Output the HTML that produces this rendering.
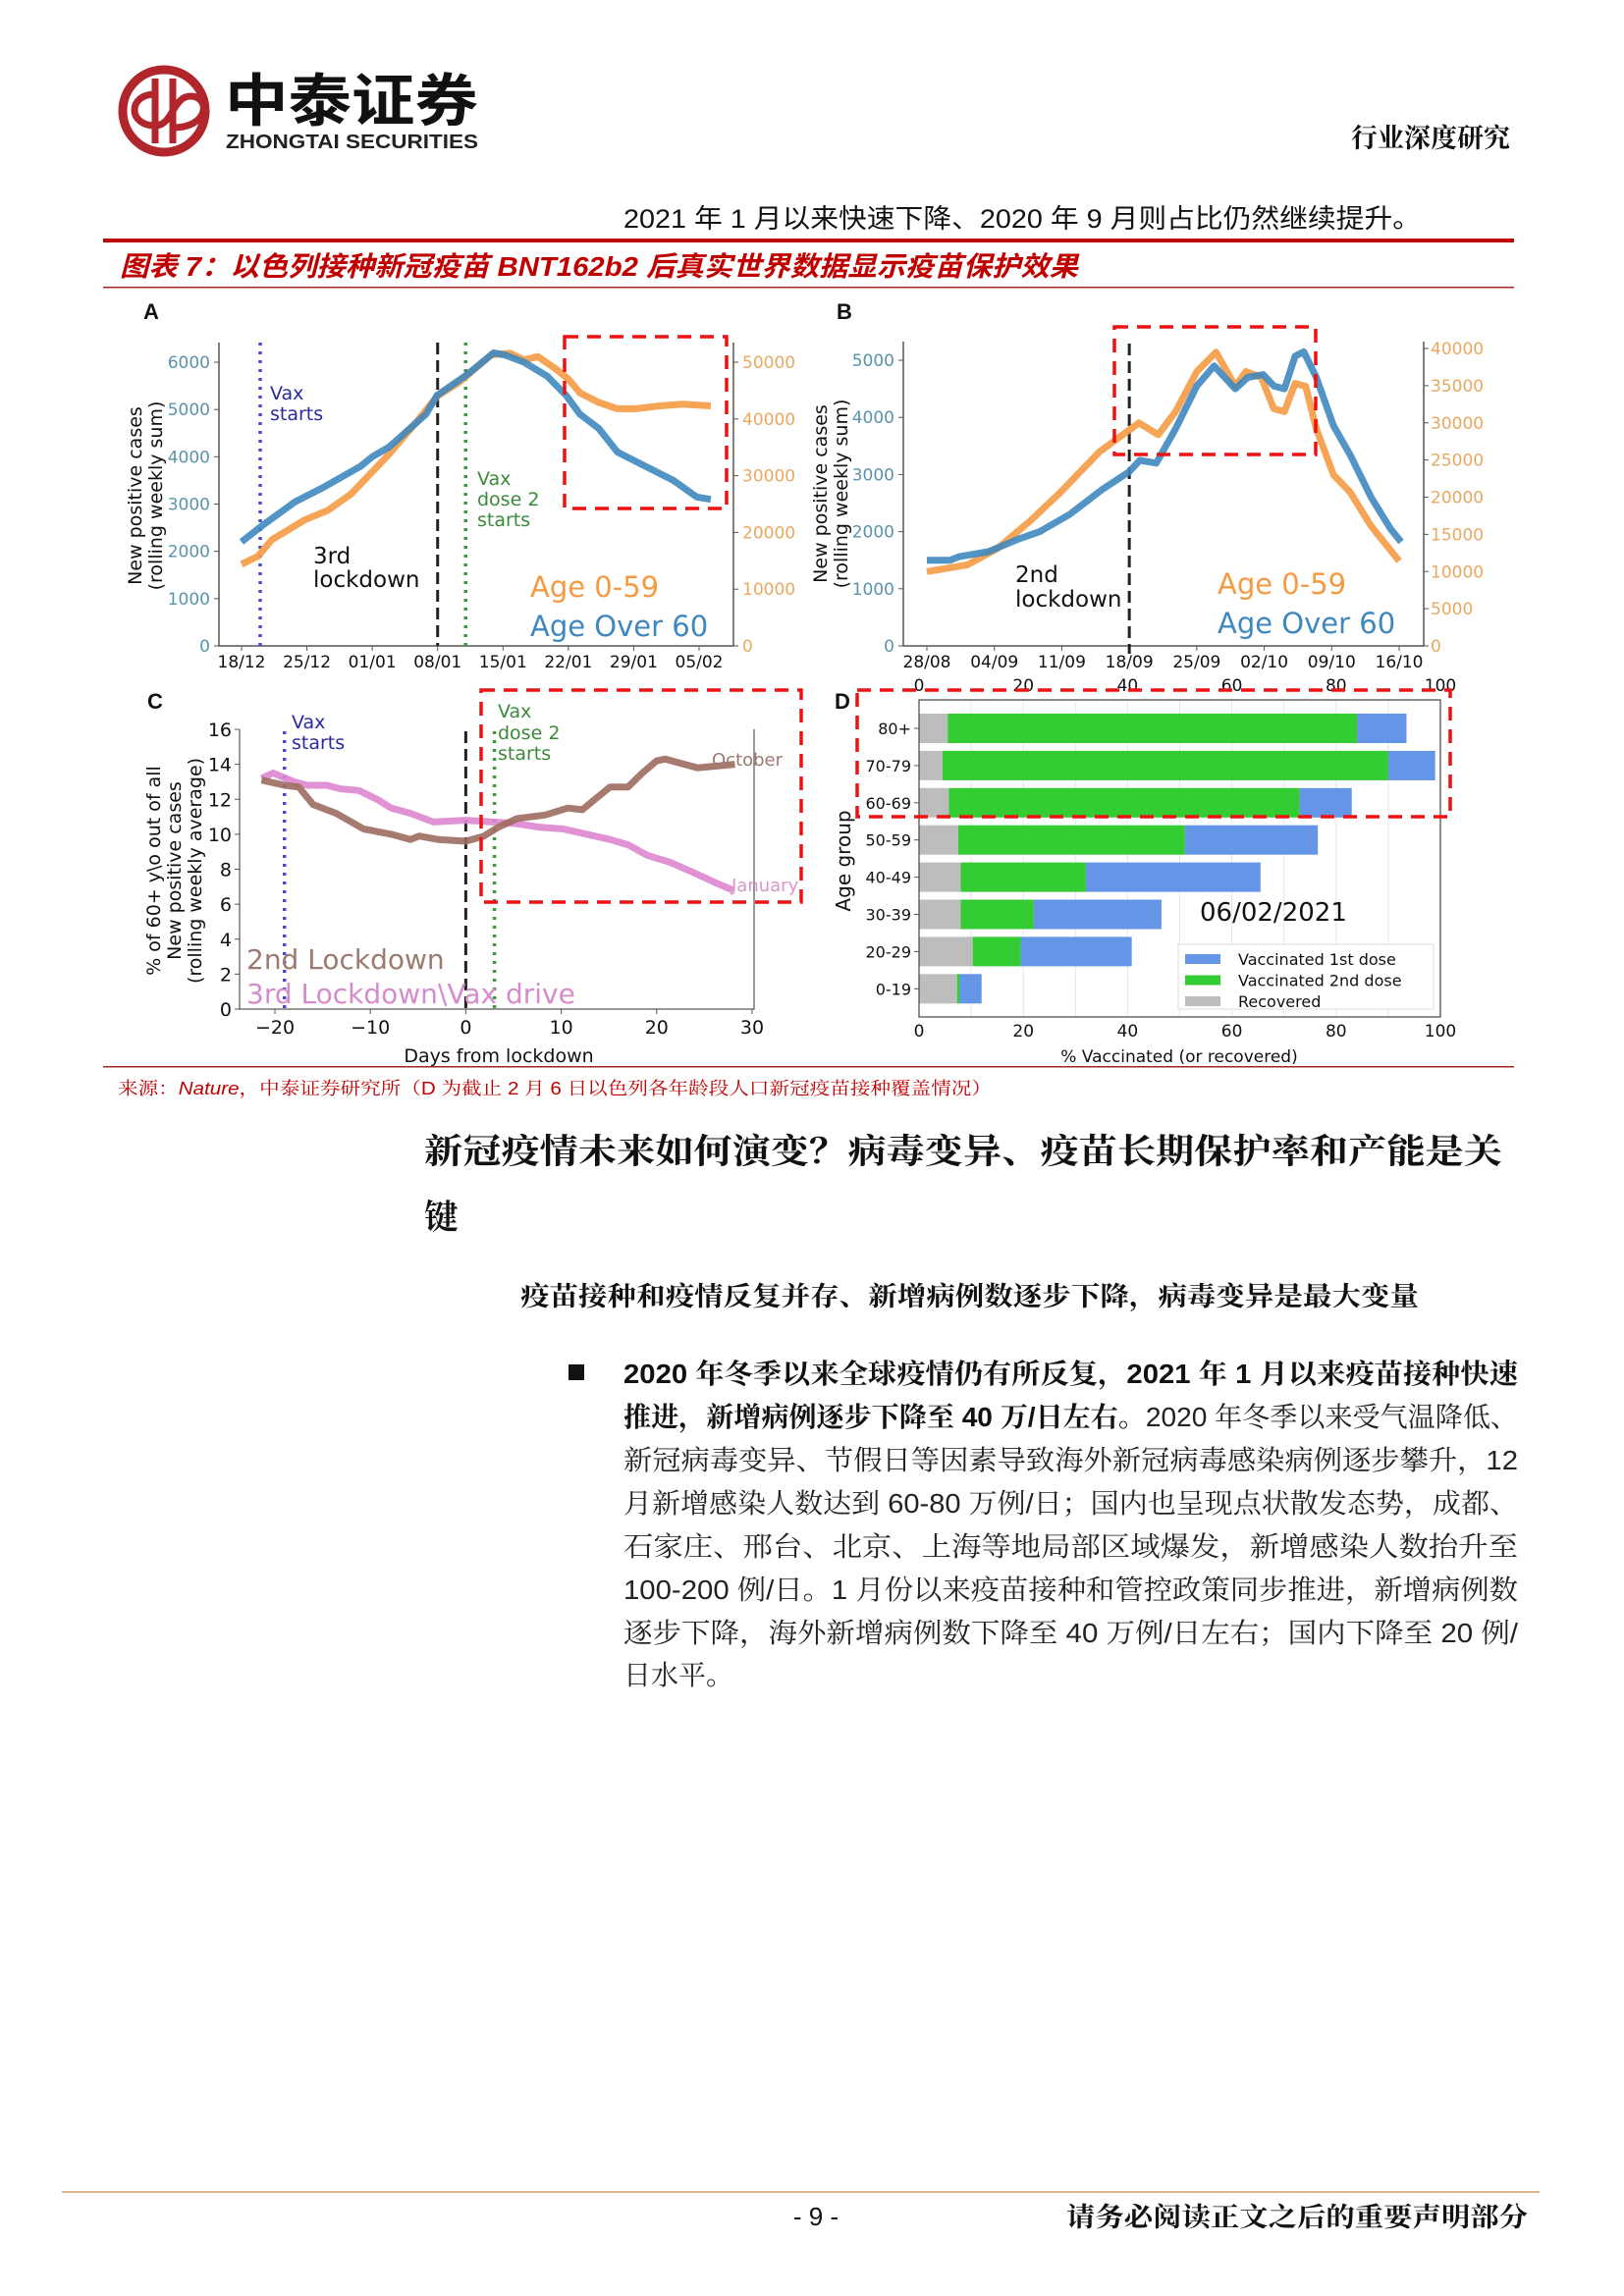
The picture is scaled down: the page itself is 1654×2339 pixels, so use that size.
<!DOCTYPE html>
<html><head><meta charset="utf-8">
<style>
html,body{margin:0;padding:0;background:#fff;}
body{width:1654px;height:2339px;position:relative;overflow:hidden;}
svg{position:absolute;left:0;top:0;}
</style></head>
<body>
<svg id="page" width="1654" height="2339" viewBox="0 0 1654 2339" xmlns="http://www.w3.org/2000/svg" font-family="'Liberation Sans','Noto Sans CJK SC',sans-serif">
<g>
  <g>
    <circle cx="167" cy="113" r="42" fill="none" stroke="#b0262b" stroke-width="9"/>
    <path d="M158 80 L158 146 M176 80 L176 146" stroke="#b0262b" stroke-width="7" fill="none"/>
    <path d="M158 96 C130 96 130 128 158 128 C176 128 176 98 194 98 C214 98 214 130 176 130" stroke="#b0262b" stroke-width="7" fill="none"/>
  </g>
  <text x="229" y="123" font-size="58" font-weight="bold" textLength="258" lengthAdjust="spacingAndGlyphs" font-family="'Noto Sans CJK SC',sans-serif" fill="#111">中泰证券</text>
  <text x="230" y="151" font-size="20" font-weight="bold" textLength="257" lengthAdjust="spacingAndGlyphs" fill="#222">ZHONGTAI SECURITIES</text>
  <text x="1538" y="150" font-size="27" font-weight="bold" text-anchor="end" font-family="'Noto Serif CJK SC',serif" fill="#111">行业深度研究</text>
</g>
<text x="635" y="232" font-size="27" textLength="812" lengthAdjust="spacingAndGlyphs" font-family="'Liberation Sans','Noto Sans CJK SC',sans-serif" fill="#111">2021 年 1 月以来快速下降、2020 年 9 月则占比仍然继续提升。</text>
<rect x="105" y="243" width="1437" height="4" fill="#c00000"/>
<text x="122" y="281" font-size="28" font-weight="bold" font-style="italic" fill="#c00000" textLength="976" lengthAdjust="spacingAndGlyphs" font-family="'Liberation Sans','Noto Sans CJK SC',sans-serif">图表 7：以色列接种新冠疫苗 BNT162b2 后真实世界数据显示疫苗保护效果</text>
<rect x="105" y="292" width="1437" height="1.5" fill="#9a2a2a"/>
<g id="charts"></g>
<rect x="105" y="1086" width="1437" height="1.5" fill="#9a2a2a"/>
<text x="120" y="1115" font-size="18" fill="#c00000" textLength="890" lengthAdjust="spacingAndGlyphs" font-family="'Liberation Sans','Noto Serif CJK SC',serif">来源：<tspan font-style="italic">Nature</tspan>，中泰证券研究所（D 为截止 2 月 6 日以色列各年龄段人口新冠疫苗接种覆盖情况）</text>
<g font-family="'Noto Serif CJK SC',serif" font-weight="bold" font-size="35" fill="#111">
  <text x="432" y="1185" textLength="1098" lengthAdjust="spacingAndGlyphs">新冠疫情未来如何演变？病毒变异、疫苗长期保护率和产能是关</text>
  <text x="432" y="1252">键</text>
</g>
<text x="530" y="1330" font-size="27" font-weight="bold" font-family="'Noto Serif CJK SC',serif" fill="#111" textLength="915" lengthAdjust="spacingAndGlyphs">疫苗接种和疫情反复并存、新增病例数逐步下降，病毒变异是最大变量</text>
<rect x="579" y="1390" width="16" height="16" fill="#111"/>
<g font-size="28" fill="#222" font-family="'Liberation Sans','Noto Serif CJK SC',serif">
  <text x="635" y="1409" font-weight="bold" textLength="911" lengthAdjust="spacingAndGlyphs" fill="#111">2020 年冬季以来全球疫情仍有所反复，2021 年 1 月以来疫苗接种快速</text>
  <text x="635" y="1453" textLength="911" lengthAdjust="spacingAndGlyphs"><tspan font-weight="bold" fill="#111">推进，新增病例逐步下降至 40 万/日左右。</tspan>2020 年冬季以来受气温降低、</text>
  <text x="635" y="1497" textLength="911" lengthAdjust="spacingAndGlyphs">新冠病毒变异、节假日等因素导致海外新冠病毒感染病例逐步攀升，12</text>
  <text x="635" y="1541" textLength="911" lengthAdjust="spacingAndGlyphs">月新增感染人数达到 60-80 万例/日；国内也呈现点状散发态势，成都、</text>
  <text x="635" y="1585" textLength="911" lengthAdjust="spacingAndGlyphs">石家庄、邢台、北京、上海等地局部区域爆发，新增感染人数抬升至</text>
  <text x="635" y="1629" textLength="911" lengthAdjust="spacingAndGlyphs">100-200 例/日。1 月份以来疫苗接种和管控政策同步推进，新增病例数</text>
  <text x="635" y="1673" textLength="911" lengthAdjust="spacingAndGlyphs">逐步下降，海外新增病例数下降至 40 万例/日左右；国内下降至 20 例/</text>
  <text x="635" y="1716">日水平。</text>
</g>
<rect x="63" y="2232" width="1505" height="2" fill="#e0b48c"/>
<text x="831" y="2267" font-size="26" text-anchor="middle" fill="#111">- 9 -</text>
<text x="1556" y="2268" font-size="27" font-weight="bold" text-anchor="end" font-family="'Noto Serif CJK SC',serif" fill="#111" textLength="470" lengthAdjust="spacingAndGlyphs">请务必阅读正文之后的重要声明部分</text>
</svg>
<script>
// ---- Panel A data ----
const aBlueDays = [0,2.25,5.75,8.75,12.75,14,15.75,19.75,20.95,24.25,27,28.25,30.25,32.75,34.75,36.25,38.25,40.25,42.75,46.25,48.75,50.25];
const aBlueVals = [2200,2550,3050,3350,3800,4000,4200,4900,5300,5750,6200,6150,6000,5700,5300,4900,4600,4100,3850,3500,3150,3100];
const aOrangeDays = [0,1.75,3.25,6.75,9.25,11.75,15.75,18.75,20.95,23.25,26.75,28.75,30.25,31.75,33.75,35,36.25,38.25,40.25,42.25,44.75,47.25,50.25];
const aOrangeVals = [14400,15800,18700,22200,23900,26800,33700,39500,44000,46400,51300,51600,50400,51000,48700,47000,44600,42900,41800,41800,42300,42600,42300];
const aXTicks = ['18/12','25/12','01/01','08/01','15/01','22/01','29/01','05/02'];
const aLeftTicks = [0,1000,2000,3000,4000,5000,6000];
const aRightTicks = [0,10000,20000,30000,40000,50000];
// ---- Panel B data ----
const bBlueDays = [0,2.4,3.3,6.4,9.5,11.7,14.8,18.3,21,22.1,23.8,25.8,28,29.8,32,33.3,34.9,36,37.1,38.2,39.1,40.4,42.2,43.9,46.1,48.1,49.2];
const bBlueVals = [1500,1500,1560,1650,1870,2000,2300,2750,3050,3250,3200,3800,4550,4900,4500,4700,4750,4550,4500,5070,5150,4700,3850,3350,2600,2050,1820];
const bOrangeDays = [0,4.2,7.3,10.8,13.9,17.9,22,24,25.8,28,30,32,33.1,34.7,36,37.1,38.2,39.3,40.4,42.2,43.9,46.1,49];
const bOrangeVals = [10000,10900,13100,16900,20700,26100,30000,28400,31500,36900,39500,34900,36900,36100,31900,31500,35300,34900,29200,23000,20700,16100,11400];
const bXTicks = ['28/08','04/09','11/09','18/09','25/09','02/10','09/10','16/10'];
const bLeftTicks = [0,1000,2000,3000,4000,5000];
const bRightTicks = [0,5000,10000,15000,20000,25000,30000,35000,40000];
// ---- Panel C data ----
const cOctDays = [-21.4,-19,-17.5,-16,-13.6,-10.7,-7.8,-5.8,-4.9,-2.9,0,1.9,3.4,5.4,8.3,10.7,12.2,15.1,17,18.5,20,20.9,22.9,24.3,26.3,28.2];
const cOctVals = [13.1,12.8,12.7,11.7,11.2,10.3,10.0,9.7,9.9,9.7,9.6,9.9,10.4,10.9,11.1,11.5,11.4,12.7,12.7,13.5,14.2,14.3,14.0,13.8,13.9,14.0];
const cJanDays = [-21.4,-20.2,-18,-16.6,-14.6,-13.1,-11.2,-9.3,-7.8,-5.8,-3.4,0,2.9,5.4,7.8,10.2,12.7,15.1,17,19,21.4,23.9,26.3,28];
const cJanVals = [13.2,13.5,13.0,12.8,12.8,12.6,12.5,12.0,11.5,11.2,10.7,10.8,10.7,10.6,10.4,10.3,10.0,9.7,9.4,8.8,8.4,7.8,7.2,6.8];
const cXTicks = [-20,-10,0,10,20,30];
const cYTicks = [0,2,4,6,8,10,12,14,16];
// ---- Panel D data ----
const dGroups = ['80+','70-79','60-69','50-59','40-49','30-39','20-29','0-19'];
const dRecovered = [5.5,4.5,5.7,7.5,8,8,10.3,7.3];
const dDose2 = [78.5,85.5,67.3,43.5,24,14,9.2,0.5];
const dDose1 = [9.5,9,10,25.5,33.5,24.5,21.3,4.2];
const dXTicks = [0,20,40,60,80,100];

const NS = 'http://www.w3.org/2000/svg';
const root = document.getElementById('charts');
function mk(tag, attrs, parent, txt){
  const e = document.createElementNS(NS, tag);
  for (const k in attrs) e.setAttribute(k, attrs[k]);
  if (txt !== undefined) e.textContent = txt;
  (parent || root).appendChild(e);
  return e;
}
function linear(d0,d1,r0,r1){ return v => r0 + (v-d0)/(d1-d0)*(r1-r0); }
function path(xs, ys, xf, yf){ return xs.map((d,i)=>(i?'L':'M')+xf(d).toFixed(1)+' '+yf(ys[i]).toFixed(1)).join(' '); }
function redBox(x,y,w,h,name){
  const r = mk('rect',{x:x,y:y,width:w,height:h,fill:'none',stroke:'#ee1111','stroke-width':3.5,'stroke-dasharray':'14 9'});
  
  
}
function label(x,y,t,opts,name){
  const a = Object.assign({x:x,y:y,'font-size':19,fill:'#111','font-family':"'DejaVu Sans','Liberation Sans',sans-serif"}, opts||{});
  const e = mk('text',a,null,t);
  
  
  return e;
}
function vline(x,y0,y1,color,dash,w,name){
  const e = mk('line',{x1:x,x2:x,y1:y0,y2:y1,stroke:color,'stroke-width':w||3,'stroke-dasharray':dash});
  
  
}
const BLUE='#3f88bf', ORANGE='#f59a42', TICKL='#5a93ad', TICKR='#e9a860';

// ================= Panel A =================
(function(){
  const L=223,R=747,B=658, X = linear(0,49,246,712), Y = linear(0,6000,658,369), YR = linear(0,50000,658,369);
  label(146,325,'A',{'font-size':22,'font-weight':'bold','font-family':"'Liberation Sans',sans-serif"},'panel-a-label');
  const ax = mk('path',{d:`M${L} 349 L${L} ${B} L${R} ${B} L${R} 349`,fill:'none',stroke:'#555','stroke-width':1.5});
  
  
  aXTicks.forEach((t,i)=>{ const x=X(i*7);
    const tk=mk('line',{x1:x,x2:x,y1:B,y2:B+5,stroke:'#555'});
    
    
    label(x,B+22,t,{'text-anchor':'middle','font-size':17},'panel-a-x-tick-label'); });
  aLeftTicks.forEach(v=>{ const y=Y(v);
    const tk=mk('line',{x1:L-5,x2:L,y1:y,y2:y,stroke:'#555'});
    
    
    label(L-9,y+6,String(v),{'text-anchor':'end','font-size':17,fill:TICKL},'panel-a-left-tick-label'); });
  aRightTicks.forEach(v=>{ const y=YR(v);
    const tk=mk('line',{x1:R,x2:R+5,y1:y,y2:y,stroke:'#555'});
    
    
    label(R+9,y+6,String(v),{'font-size':17,fill:TICKR},'panel-a-right-tick-label'); });
  const yl = label(0,0,'',{'font-size':19,'text-anchor':'middle',transform:'translate(150,505) rotate(-90)'},'panel-a-y-axis-title');
  mk('tspan',{x:0,y:-6},yl,'New positive cases');
  mk('tspan',{x:0,y:15},yl,'(rolling weekly sum)');
  vline(X(2),349,B,'#4a4ad0','3 6',3.5,'panel-a-vax-start-line');
  vline(X(21),349,B,'#222','12 6',3,'panel-a-lockdown-line');
  vline(X(24),349,B,'#3a9a3a','3 6',3.5,'panel-a-dose2-line');
  const po = mk('path',{d:path(aOrangeDays,aOrangeVals,X,YR),fill:'none',stroke:ORANGE,'stroke-width':7,'stroke-linejoin':'round','stroke-opacity':0.9});
  
  
  const pb = mk('path',{d:path(aBlueDays,aBlueVals,X,Y),fill:'none',stroke:BLUE,'stroke-width':7,'stroke-linejoin':'round','stroke-opacity':0.9});
  
  
  label(275,407,'Vax',{fill:'#2a2aa0'},'panel-a-vax-label');
  label(275,428,'starts',{fill:'#2a2aa0'},'panel-a-vax-label-2');
  label(486,494,'Vax',{fill:'#3a8a3a'},'panel-a-dose2-label');
  label(486,515,'dose 2',{fill:'#3a8a3a'},'panel-a-dose2-label-2');
  label(486,536,'starts',{fill:'#3a8a3a'},'panel-a-dose2-label-3');
  label(319,574,'3rd',{'font-size':23},'panel-a-lockdown-label');
  label(319,598,'lockdown',{'font-size':23},'panel-a-lockdown-label-2');
  label(540,608,'Age 0-59',{'font-size':29,fill:ORANGE},'panel-a-legend-age-0-59');
  label(540,648,'Age Over 60',{'font-size':29,fill:BLUE},'panel-a-legend-age-over-60');
  redBox(575,343,165,175,'panel-a-highlight-box');
})();

// ================= Panel B =================
(function(){
  const L=920,R=1450,B=658, X = linear(0,49,944,1425), Y = linear(0,5000,658,367), YR = linear(0,40000,658,355);
  label(852,325,'B',{'font-size':22,'font-weight':'bold','font-family':"'Liberation Sans',sans-serif"},'panel-b-label');
  const ax = mk('path',{d:`M${L} 348 L${L} ${B} L${R} ${B} L${R} 348`,fill:'none',stroke:'#555','stroke-width':1.5});
  
  
  bXTicks.forEach((t,i)=>{ const x=X(i*7);
    const tk=mk('line',{x1:x,x2:x,y1:B,y2:B+5,stroke:'#555'});
    
    
    label(x,B+22,t,{'text-anchor':'middle','font-size':17},'panel-b-x-tick-label'); });
  bLeftTicks.forEach(v=>{ const y=Y(v);
    const tk=mk('line',{x1:L-5,x2:L,y1:y,y2:y,stroke:'#555'});
    
    
    label(L-9,y+6,String(v),{'text-anchor':'end','font-size':17,fill:TICKL},'panel-b-left-tick-label'); });
  bRightTicks.forEach(v=>{ const y=YR(v);
    const tk=mk('line',{x1:R,x2:R+5,y1:y,y2:y,stroke:'#555'});
    
    
    label(R+7,y+6,String(v),{'font-size':17,fill:TICKR},'panel-b-right-tick-label'); });
  const yl = label(0,0,'',{'font-size':19,'text-anchor':'middle',transform:'translate(848,503) rotate(-90)'},'panel-b-y-axis-title');
  mk('tspan',{x:0,y:-6},yl,'New positive cases');
  mk('tspan',{x:0,y:15},yl,'(rolling weekly sum)');
  vline(X(21),350,B+8,'#222','12 6',3,'panel-b-lockdown-line');
  const po = mk('path',{d:path(bOrangeDays,bOrangeVals,X,YR),fill:'none',stroke:ORANGE,'stroke-width':7,'stroke-linejoin':'round','stroke-opacity':0.9});
  
  
  const pb = mk('path',{d:path(bBlueDays,bBlueVals,X,Y),fill:'none',stroke:BLUE,'stroke-width':7,'stroke-linejoin':'round','stroke-opacity':0.9});
  
  
  label(1034,593,'2nd',{'font-size':23},'panel-b-lockdown-label');
  label(1034,618,'lockdown',{'font-size':23},'panel-b-lockdown-label-2');
  label(1240,605,'Age 0-59',{'font-size':29,fill:ORANGE},'panel-b-legend-age-0-59');
  label(1240,645,'Age Over 60',{'font-size':29,fill:BLUE},'panel-b-legend-age-over-60');
  redBox(1135,333,205,130,'panel-b-highlight-box');
})();

// ================= Panel C =================
(function(){
  const L=244,R=768,B=1028,T=743, X = linear(-20,30,280,766), Y = linear(0,16,1028,743);
  label(150,722,'C',{'font-size':22,'font-weight':'bold','font-family':"'Liberation Sans',sans-serif"},'panel-c-label');
  const ax = mk('path',{d:`M${L} ${T} L${L} ${B} L${R} ${B} L${R} ${T}`,fill:'none',stroke:'#777','stroke-width':1.5});
  
  
  cXTicks.forEach(v=>{ const x=X(v);
    const tk=mk('line',{x1:x,x2:x,y1:B,y2:B+5,stroke:'#555'});
    
    
    label(x,B+25,String(v).replace('-','\u2212'),{'text-anchor':'middle','font-size':19},'panel-c-x-tick-label'); });
  cYTicks.forEach(v=>{ const y=Y(v);
    const tk=mk('line',{x1:L-5,x2:L,y1:y,y2:y,stroke:'#555'});
    
    
    label(L-8,y+7,String(v),{'text-anchor':'end','font-size':19},'panel-c-y-tick-label'); });
  label(508,1082,'Days from lockdown',{'text-anchor':'middle','font-size':19},'panel-c-x-axis-title');
  const yl = label(0,0,'',{'font-size':19,'text-anchor':'middle',transform:'translate(181,887) rotate(-90)'},'panel-c-y-axis-title');
  mk('tspan',{x:0,y:-18},yl,'% of 60+ y\\o out of all');
  mk('tspan',{x:0,y:3},yl,'New positive cases');
  mk('tspan',{x:0,y:24},yl,'(rolling weekly average)');
  vline(X(-19),745,B,'#4a4ad0','3 6',3.5,'panel-c-vax-start-line');
  vline(X(0),745,B,'#222','12 6',3,'panel-c-lockdown-line');
  vline(X(3),745,B,'#3a9a3a','3 6',3.5,'panel-c-dose2-line');
  const pj = mk('path',{d:path(cJanDays,cJanVals,X,Y),fill:'none',stroke:'#dd86cf','stroke-width':7,'stroke-linejoin':'round','stroke-opacity':0.9});
  
  
  const po = mk('path',{d:path(cOctDays,cOctVals,X,Y),fill:'none',stroke:'#9c6b5e','stroke-width':7,'stroke-linejoin':'round','stroke-opacity':0.9});
  
  
  label(297,742,'Vax',{fill:'#2a2aa0'},'panel-c-vax-label');
  label(297,763,'starts',{fill:'#2a2aa0'},'panel-c-vax-label-2');
  label(507,731,'Vax',{fill:'#3a8a3a'},'panel-c-dose2-label');
  label(507,753,'dose 2',{fill:'#3a8a3a'},'panel-c-dose2-label-2');
  label(507,774,'starts',{fill:'#3a8a3a'},'panel-c-dose2-label-3');
  label(725,780,'October',{'font-size':18,fill:'#9c7a70'},'panel-c-october-label');
  label(745,908,'January',{'font-size':18,fill:'#d996cc'},'panel-c-january-label');
  label(251,987,'2nd Lockdown',{'font-size':28,fill:'#9c7a70'},'panel-c-legend-2nd-lockdown');
  label(251,1022,'3rd Lockdown\\Vax drive',{'font-size':28,fill:'#d68ccc'},'panel-c-legend-3rd-lockdown');
  redBox(490,703,326,216,'panel-c-highlight-box');
})();

// ================= Panel D =================
(function(){
  const L=936,R=1467,T=713,B=1036, X = linear(0,100,936,1467);
  const cy0 = 742, step = 37.9, bh = 30;
  label(850,722,'D',{'font-size':22,'font-weight':'bold','font-family':"'Liberation Sans',sans-serif"},'panel-d-label');
  for (let g=10; g<100; g+=10){
    const gl = mk('line',{x1:X(g),x2:X(g),y1:T,y2:B,stroke:'#e6e6e6','stroke-width':1});
    
    
  }
  dGroups.forEach((gname,i)=>{
    const cy = cy0 + i*step;
    const r0 = dRecovered[i], r1 = r0 + dDose2[i], r2 = r1 + dDose1[i];
    const a = mk('rect',{x:X(0),y:cy-bh/2,width:X(r0)-X(0),height:bh,fill:'#bdbdbd'});
    
    
    const b = mk('rect',{x:X(r0),y:cy-bh/2,width:X(r1)-X(r0),height:bh,fill:'#33cc33'});
    
    
    const c = mk('rect',{x:X(r1),y:cy-bh/2,width:X(r2)-X(r1),height:bh,fill:'#6495e6'});
    
    
    const tk=mk('line',{x1:L-5,x2:L,y1:cy,y2:cy,stroke:'#555'});
    
    
    label(L-8,cy+6,gname,{'text-anchor':'end','font-size':16},'panel-d-y-tick-label');
  });
  const ax = mk('rect',{x:L,y:T,width:R-L,height:B-T,fill:'none',stroke:'#444','stroke-width':1.2});
  
  
  dXTicks.forEach(v=>{ const x=X(v);
    label(x,B+20,String(v),{'text-anchor':'middle','font-size':17},'panel-d-x-tick-label');
    label(x,T-9,String(v),{'text-anchor':'middle','font-size':17},'panel-d-top-tick-label'); });
  label(1201,1082,'% Vaccinated (or recovered)',{'text-anchor':'middle','font-size':17},'panel-d-x-axis-title');
  label(0,0,'Age group',{'text-anchor':'middle','font-size':20,transform:'translate(866,877) rotate(-90)'},'panel-d-y-axis-title');
  label(1222,938,'06/02/2021',{'font-size':26},'panel-d-date-label');
  const lg = mk('rect',{x:1200,y:962,width:260,height:66,fill:'#fff',stroke:'#ddd'});
  
  
  const items = [['Vaccinated 1st dose','#6495e6'],['Vaccinated 2nd dose','#33cc33'],['Recovered','#bdbdbd']];
  items.forEach((it,i)=>{
    const y = 972 + i*21.5;
    const sw = mk('rect',{x:1207,y:y,width:36,height:10,fill:it[1]});
    
    
    label(1261,y+11,it[0],{'font-size':16},'panel-d-legend-entry');
  });
  redBox(873,703,604,129,'panel-d-highlight-box');
})();
</script>
</body></html>
